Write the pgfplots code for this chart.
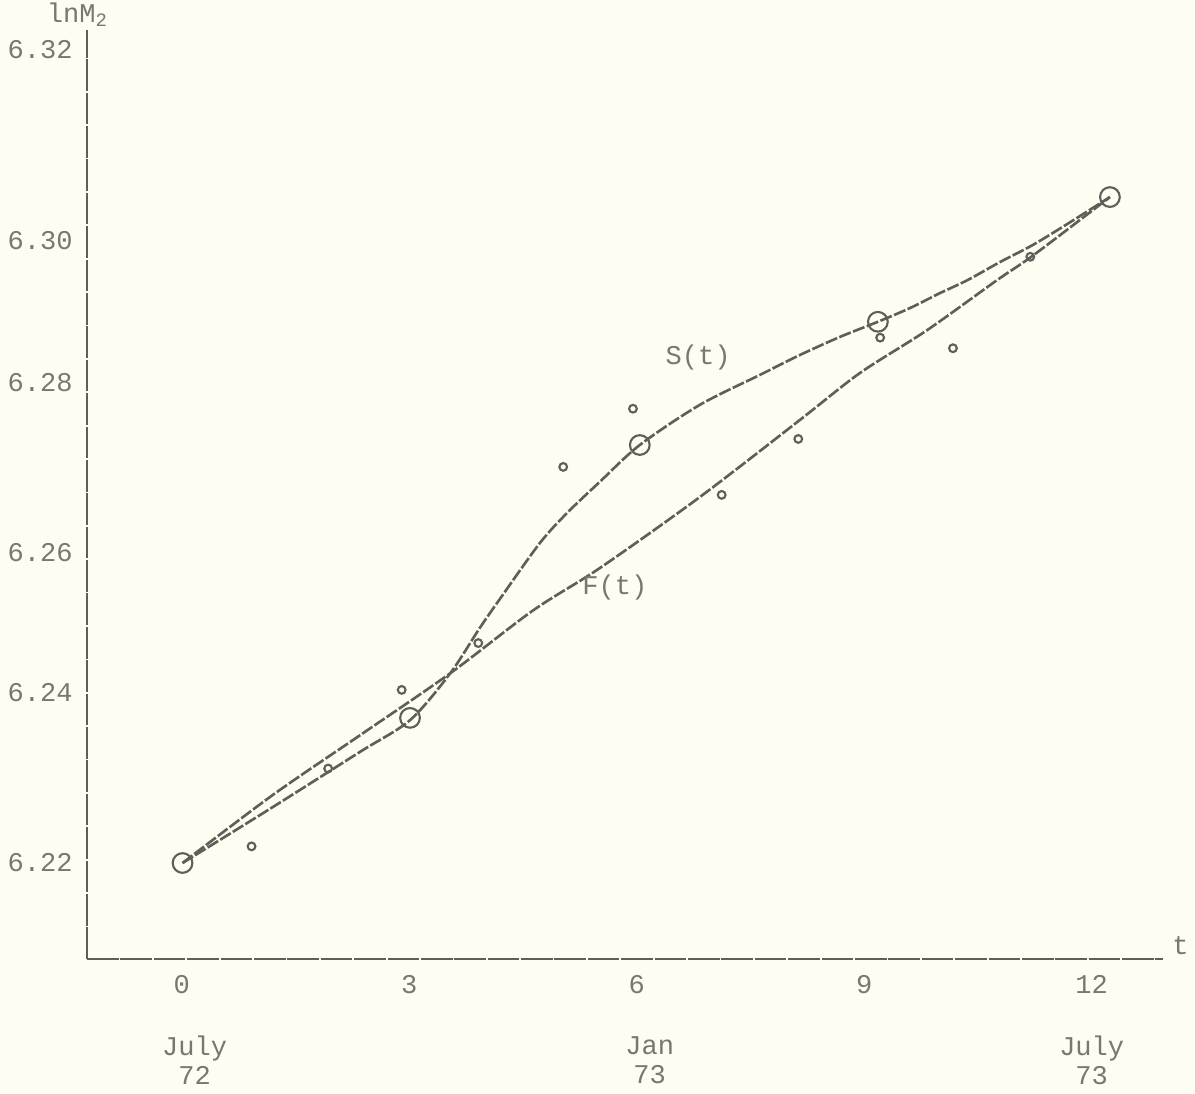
\documentclass[border=0pt]{standalone}
\usepackage{pgfplots}
\pgfplotsset{compat=1.18}
\usepackage{fontspec}
\setmonofont{Liberation Mono}
\definecolor{paper}{RGB}{253,253,242}
\definecolor{ink}{RGB}{120,120,112}
\definecolor{pen}{RGB}{95,95,90}
\begin{document}
\begin{tikzpicture}[font=\fontsize{7.7}{8.4}\selectfont\ttfamily]
\fill[paper] (-0.87cm,-1.34cm) rectangle (11.08cm,9.59cm);
\begin{axis}[
  at={(0,0)}, anchor=south west,
  scale only axis, width=10.76cm, height=9.29cm,
  xmin=-1.25, xmax=12.94, ymin=6.2031, ymax=6.3260,
  axis x line*=bottom, axis y line*=left,
  axis line style={pen, line width=0.5pt, dash pattern=on 9pt off 0.5pt},
  major tick length=0pt,
  xtick={0,3,6,9,12}, xticklabels={0,3,6,9,12},
  xticklabel style={yshift=-0.04cm},
  ytick={6.2159,6.2384,6.2569,6.2794,6.2982,6.3234},
  yticklabels={6.22,6.24,6.26,6.28,6.30,6.32},
  yticklabel style={xshift=-0.02cm},
  tick label style={text=ink},
  clip=false,
]
% S(t): spline through the quarterly knots
\addplot[pen, line width=0.75pt, dash pattern=on 3.5pt off 0.7pt, smooth] coordinates {
  (0.01,6.2158) (1.20,6.2232) (2.35,6.2305) (3.01,6.2347) (3.54,6.2409)
  (3.93,6.2469) (4.20,6.2508) (4.72,6.2581) (5.08,6.2621) (5.51,6.2662)
  (6.04,6.2711) (6.83,6.2764) (7.63,6.2804) (8.15,6.2830) (8.68,6.2854)
  (9.18,6.2874) (9.60,6.2892) (10.00,6.2912) (10.36,6.2929)
  (10.79,6.2953) (11.23,6.2976) (11.72,6.3006) (12.24,6.3039)
};
% F(t)
\addplot[pen, line width=0.75pt, dash pattern=on 3.5pt off 0.7pt, smooth] coordinates {
  (0.01,6.2158) (1.20,6.2248) (2.35,6.2327) (3.54,6.2409) (4.63,6.2492)
  (5.51,6.2548) (6.83,6.2642) (8.15,6.2744) (8.94,6.2806) (9.83,6.2863)
  (10.75,6.2929) (11.23,6.2962) (12.24,6.3039)
};
% knots
\addplot[only marks, mark=o, mark size=2.8pt, pen, line width=0.6pt] coordinates {
  (0.01,6.2158) (3.01,6.2350) (6.04,6.2711) (9.18,6.2874) (12.24,6.3039)
};
% monthly observations
\addplot[only marks, mark=o, mark size=1.1pt, pen, line width=0.6pt] coordinates {
  (0.92,6.2180) (1.93,6.2283) (2.90,6.2387) (3.91,6.2449) (5.03,6.2682)
  (5.95,6.2759) (7.12,6.2645) (8.13,6.2719) (9.21,6.2853) (10.17,6.2839)
  (11.19,6.2960)
};
\node[text=ink] at (axis cs:-1.37,6.3280) {lnM\textsubscript{2}};
\node[text=ink] at (axis cs:13.17,6.2049) {t};
\node[text=ink] at (axis cs:6.81,6.2827) {S(t)};
\node[text=ink] at (axis cs:5.71,6.2523) {F(t)};
\node[text=ink, align=center] at (axis cs:0.17,6.1897) {July\\72};
\node[text=ink, align=center] at (axis cs:6.17,6.1897) {Jan\\73};
\node[text=ink, align=center] at (axis cs:12.0,6.1897) {July\\73};
\end{axis}
\pgfresetboundingbox
\path[use as bounding box] (-0.87cm,-1.34cm) rectangle (11.08cm,9.59cm);
\end{tikzpicture}
\end{document}
